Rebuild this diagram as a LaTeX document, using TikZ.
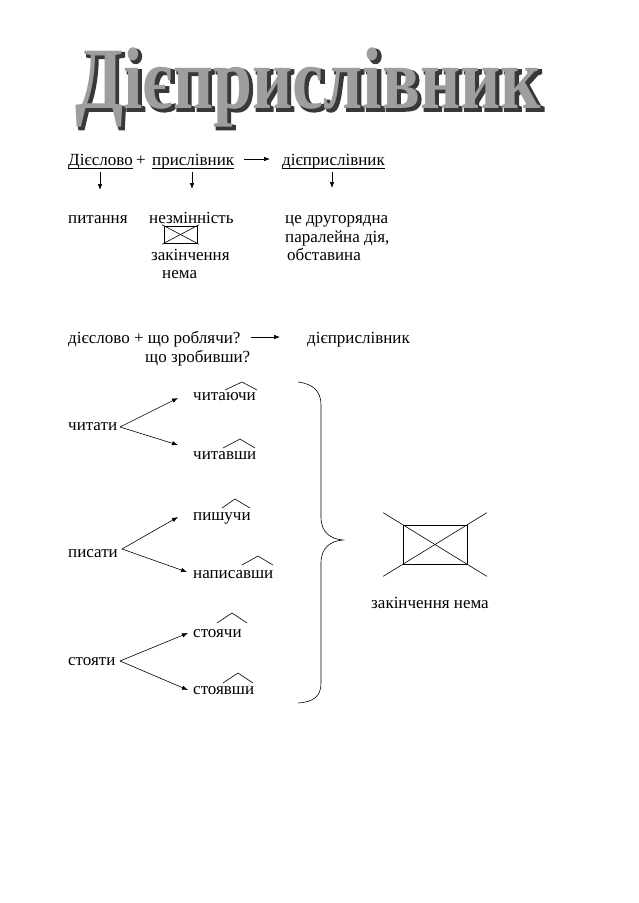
\documentclass[tikz,border=0pt]{standalone}
\usepackage{fontspec}
\usepackage{graphicx}
\setmainfont{Liberation Serif}
\newfontfamily\titleshadowfont[FakeBold=3]{Liberation Serif Bold}
\newfontfamily\titlefacefont{Liberation Serif Bold}
\usetikzlibrary{arrows.meta,calc}
\begin{document}
\begin{tikzpicture}[x=1pt,y=-1pt,
  txt/.style={inner sep=0pt,anchor=base west,font=\fontsize{17}{20}\selectfont},
  titletxt/.style={inner sep=0pt,anchor=base west},
  arr/.style={line width=0.6pt,-{Latex[length=6pt,width=4.5pt]}},
  ln/.style={line width=0.6pt},
  hat/.style={line width=0.6pt},
  xbox/.style={draw,line width=0.8pt,inner sep=0pt}
]
\useasboundingbox[fill=white] (0,0) rectangle (638,903);

% ---- title ----
\node[titletxt,text=black!78,font=\titleshadowfont\fontsize{70}{80}\selectfont] (titleshadow) at (77.5,110.5) {\scalebox{1}[1.25]{Дієприслівник}};
\node[titletxt,text=black!38,font=\titlefacefont\fontsize{70}{80}\selectfont] (title) at (75,108) {\scalebox{1}[1.25]{Дієприслівник}};

% ---- row 1 ----
\node[txt] (w1) at (68,165) {Дієслово};
\node[txt] (plus1) at (136,165) {+};
\node[txt] (w2) at (152,165) {прислівник};
\node[txt] (w3) at (282,165) {дієприслівник};
\draw[ln] ($(w1.base west)+(0,3)$) -- ($(w1.base east)+(0,3)$);
\draw[ln] ($(w2.base west)+(0,3)$) -- ($(w2.base east)+(0,3)$);
\draw[ln] ($(w3.base west)+(0,3)$) -- ($(w3.base east)+(0,3)$);
\draw[arr] ($(w2.base east)+(10,-6)$) -- ($(w3.base west)+(-12,-6)$);

% ---- row 2 ----
\node[txt] (q1) at (68,223) {питання};
\node[txt] (q2) at (149,223) {незмінність};
\node[txt] (q3) at (285,223) {це другорядна};
\node[txt] (q3b) at (285,242) {паралейна дія,};
\node[txt] (q3c) at (287,260) {обставина};
\node[txt] (q2b) at (151,260) {закінчення};
\node[txt] (q2c) at (162,278) {нема};

\coordinate (a1s) at (100,172); \coordinate (a1e) at (100,190);
\coordinate (a2s) at (192,172); \coordinate (a2e) at (192,189);
\coordinate (a3s) at (332,172); \coordinate (a3e) at (332,188);
\draw[arr] (a1s) -- (a1e);
\draw[arr] (a2s) -- (a2e);
\draw[arr] (a3s) -- (a3e);

\node[xbox,minimum width=33pt,minimum height=17pt] (box1) at (180.5,234.5) {};
\draw[ln] ($(box1.north west)!-0.05!(box1.south east)$) -- ($(box1.north west)!1.05!(box1.south east)$);
\draw[ln] ($(box1.south west)!-0.05!(box1.north east)$) -- ($(box1.south west)!1.05!(box1.north east)$);

% ---- row 3 ----
\node[txt] (r1) at (68,343) {дієслово + що роблячи?};
\node[txt] (r1b) at (145,362) {що зробивши?};
\node[txt] (r2) at (307,343) {дієприслівник};
\draw[arr] ($(r1.base east)+(10,-6)$) -- ($(r2.base west)+(-27,-6)$);

% ---- tree ----
\node[txt] (v1) at (68,430) {читати};
\node[txt] (v1a) at (193,400) {читаючи};
\node[txt] (v1b) at (193,459) {читавши};
\node[txt] (v2) at (68,557) {писати};
\node[txt] (v2a) at (193,520) {пишучи};
\node[txt] (v2b) at (193,578) {написавши};
\node[txt] (v3) at (68,665) {стояти};
\node[txt] (v3a) at (193,637) {стоячи};
\node[txt] (v3b) at (193,694) {стоявши};

\coordinate (v1s) at (120,427);
\coordinate (v1ae) at (178,398); \coordinate (v1be) at (178,445);
\draw[arr] (v1s) -- (v1ae);
\draw[arr] (v1s) -- (v1be);
\coordinate (v2s) at (122,549);
\coordinate (v2ae) at (178,517); \coordinate (v2be) at (187,572);
\draw[arr] (v2s) -- (v2ae);
\draw[arr] (v2s) -- (v2be);
\coordinate (v3s) at (120,661);
\coordinate (v3ae) at (188,633); \coordinate (v3be) at (188,690);
\draw[arr] (v3s) -- (v3ae);
\draw[arr] (v3s) -- (v3be);

% suffix marks
\draw[hat] (225,390) -- (242,382) -- (257,390);
\draw[hat] (223,448) -- (240,439) -- (255,448);
\draw[hat] (222,508) -- (235,499) -- (250,508);
\draw[hat] (242,565) -- (258,556) -- (273,565);
\draw[hat] (217,623) -- (232,613) -- (247,623);
\draw[hat] (223,683) -- (238,673) -- (253,683);

% brace
\draw[ln] (298,382) .. controls (314,384) and (321,392) .. (321,405) -- (321,517)
  .. controls (321,532) and (330,539) .. (343,540)
  .. controls (330,541) and (321,548) .. (321,563) -- (321,683)
  .. controls (321,696) and (314,702) .. (298,703);

% right crossed box
\node[xbox,minimum width=64pt,minimum height=39pt] (box2) at (435,544.5) {};
\draw[ln] ($(box2.north west)!-0.3!(box2.south east)$) -- ($(box2.north west)!1.3!(box2.south east)$);
\draw[ln] ($(box2.south west)!-0.3!(box2.north east)$) -- ($(box2.south west)!1.3!(box2.north east)$);
\node[txt,anchor=base] (nema) at (430,608) {закінчення нема};
\end{tikzpicture}
\end{document}
